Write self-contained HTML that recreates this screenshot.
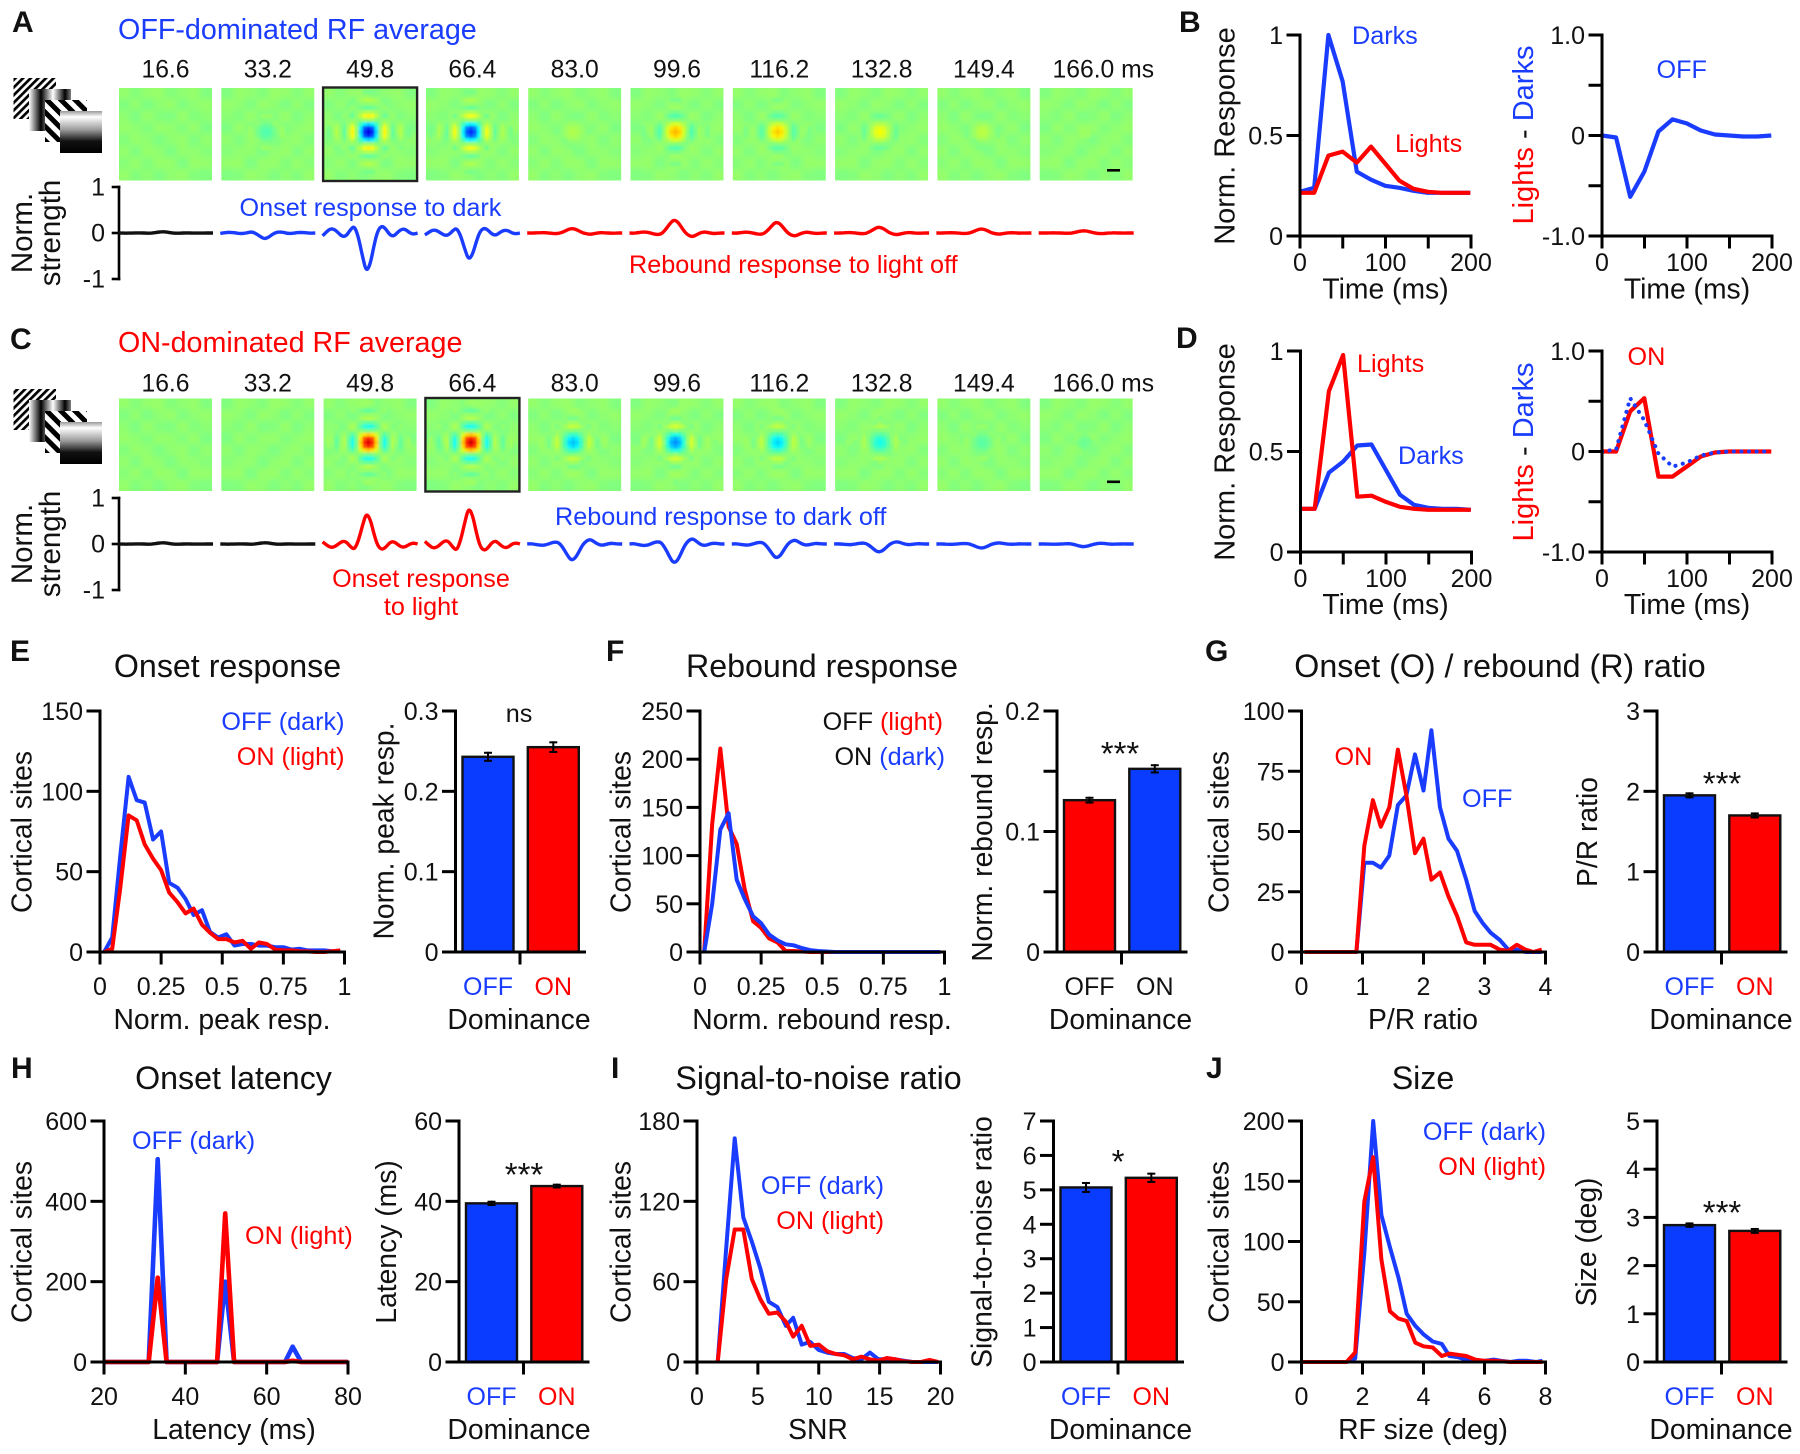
<!DOCTYPE html>
<html lang="en">
<head>
<meta charset="utf-8">
<title>OFF and ON receptive field dynamics</title>
<style>
html,body{margin:0;padding:0;background:#fff;}
svg{display:block;font-family:"Liberation Sans",Arial,sans-serif;}
text{fill:#111;}
.pl{font-size:30px;font-weight:bold;}
.ti{font-size:32.2px;}
.la{font-size:28.3px;}
.st{font-size:29.5px;}
.an{font-size:25.2px;}
.bl{fill:#1a3cff;}
.rd{fill:#ff0000;}
</style>
</head>
<body>
<svg id="figure" xmlns="http://www.w3.org/2000/svg" width="1800" height="1454" viewBox="0 0 1800 1454">
<defs>
<pattern id="hatchA" width="5.4" height="5.4" patternUnits="userSpaceOnUse" patternTransform="rotate(45)"><rect width="5.4" height="5.4" fill="#fff"/><rect width="2.7" height="5.4" fill="#000"/></pattern>
<pattern id="hatchB" width="10" height="10" patternUnits="userSpaceOnUse" patternTransform="rotate(-45)"><rect width="10" height="10" fill="#fff"/><rect width="5" height="10" fill="#000"/></pattern>
<linearGradient id="barsV" gradientUnits="userSpaceOnUse" x1="29" y1="0" x2="53" y2="0" spreadMethod="repeat"><stop offset="0" stop-color="#fff"/><stop offset=".5" stop-color="#000"/><stop offset="1" stop-color="#fff"/></linearGradient>
<linearGradient id="ramp" x1="0" y1="0" x2="0" y2="1"><stop offset="0" stop-color="#999"/><stop offset=".14" stop-color="#fff"/><stop offset=".45" stop-color="#999"/><stop offset=".72" stop-color="#111"/><stop offset="1" stop-color="#000"/></linearGradient>
<filter id="soft" x="-5%" y="-5%" width="110%" height="110%"><feGaussianBlur stdDeviation="1.1"/></filter>
<filter id="softer" x="-5%" y="-5%" width="110%" height="110%"><feGaussianBlur stdDeviation="3"/></filter>
</defs>

<!-- panel letters -->
<text class="pl" x="12" y="32">A</text>
<text class="pl" x="1179" y="32">B</text>
<text class="pl" x="10" y="349">C</text>
<text class="pl" x="1176" y="348">D</text>
<text class="pl" x="10" y="661">E</text>
<text class="pl" x="606" y="661">F</text>
<text class="pl" x="1205" y="661">G</text>
<text class="pl" x="11" y="1078">H</text>
<text class="pl" x="611" y="1078">I</text>
<text class="pl" x="1206" y="1078">J</text>

<!-- A / C headings and annotations -->
<text class="bl" x="118" y="39" font-size="28.7">OFF-dominated RF average</text>
<text class="rd" x="118" y="352" font-size="28.7">ON-dominated RF average</text>
<text class="bl an" x="239.5" y="216">Onset response to dark</text>
<text class="rd an" x="629" y="273">Rebound response to light off</text>
<text class="rd an" x="421" y="587" text-anchor="middle">Onset response</text>
<text class="rd an" x="421" y="615" text-anchor="middle">to light</text>
<text class="bl an" x="555" y="525">Rebound response to dark off</text>
<text class="st" transform="translate(32,233) rotate(-90)" text-anchor="middle">Norm.</text>
<text class="st" transform="translate(60,233) rotate(-90)" text-anchor="middle">strength</text>
<text class="st" transform="translate(32,544) rotate(-90)" text-anchor="middle">Norm.</text>
<text class="st" transform="translate(60,544) rotate(-90)" text-anchor="middle">strength</text>

<!-- B / D labels -->
<text class="la" transform="translate(1234.5,136) rotate(-90)" text-anchor="middle" style="font-size:29px">Norm. Response</text>
<text class="la" transform="translate(1533,135) rotate(-90)" text-anchor="middle" style="font-size:29px"><tspan class="rd">Lights</tspan> - <tspan class="bl">Darks</tspan></text>
<text class="la" x="1385.5" y="298.5" text-anchor="middle">Time (ms)</text>
<text class="la" x="1687" y="298.5" text-anchor="middle">Time (ms)</text>
<text class="bl an" x="1352" y="44">Darks</text>
<text class="rd an" x="1395" y="152">Lights</text>
<text class="bl an" x="1656.5" y="78">OFF</text>
<text class="la" transform="translate(1234.5,452) rotate(-90)" text-anchor="middle" style="font-size:29px">Norm. Response</text>
<text class="la" transform="translate(1533,452) rotate(-90)" text-anchor="middle" style="font-size:29px"><tspan class="rd">Lights</tspan> - <tspan class="bl">Darks</tspan></text>
<text class="la" x="1385.5" y="614" text-anchor="middle">Time (ms)</text>
<text class="la" x="1687" y="614" text-anchor="middle">Time (ms)</text>
<text class="rd an" x="1357" y="372">Lights</text>
<text class="bl an" x="1398" y="464">Darks</text>
<text class="rd an" x="1627.5" y="365">ON</text>

<!-- E -->
<text class="ti" x="227.5" y="677" text-anchor="middle">Onset response</text>
<text class="la" transform="translate(31.5,832) rotate(-90)" text-anchor="middle">Cortical sites</text>
<text class="la" x="222" y="1029" text-anchor="middle">Norm. peak resp.</text>
<text class="bl an" x="344.5" y="730" text-anchor="end">OFF (dark)</text>
<text class="rd an" x="344.5" y="765" text-anchor="end">ON (light)</text>
<text class="la" transform="translate(393.5,831) rotate(-90)" text-anchor="middle">Norm. peak resp.</text>
<text class="la" x="519" y="1029" text-anchor="middle">Dominance</text>
<text class="an" x="519" y="722" text-anchor="middle">ns</text>

<!-- F -->
<text class="ti" x="822" y="677" text-anchor="middle">Rebound response</text>
<text class="la" transform="translate(630.5,832) rotate(-90)" text-anchor="middle">Cortical sites</text>
<text class="la" x="822" y="1029" text-anchor="middle">Norm. rebound resp.</text>
<text class="an" x="943" y="730" text-anchor="end">OFF <tspan class="rd">(light)</tspan></text>
<text class="an" x="945" y="765" text-anchor="end">ON <tspan class="bl">(dark)</tspan></text>
<text class="la" transform="translate(992,832) rotate(-90)" text-anchor="middle">Norm. rebound resp.</text>
<text class="la" x="1120.5" y="1029" text-anchor="middle">Dominance</text>
<text x="1120" y="765" text-anchor="middle" font-size="33">***</text>

<!-- G -->
<text class="ti" x="1500" y="677" text-anchor="middle">Onset (O) / rebound (R) ratio</text>
<text class="la" transform="translate(1228.5,832) rotate(-90)" text-anchor="middle">Cortical sites</text>
<text class="la" x="1423" y="1029" text-anchor="middle">P/R ratio</text>
<text class="rd an" x="1334.5" y="765">ON</text>
<text class="bl an" x="1462" y="807">OFF</text>
<text class="la" transform="translate(1597,832) rotate(-90)" text-anchor="middle">P/R ratio</text>
<text class="la" x="1721" y="1029" text-anchor="middle">Dominance</text>
<text x="1722" y="795" text-anchor="middle" font-size="33">***</text>

<!-- H -->
<text class="ti" x="233.5" y="1089" text-anchor="middle">Onset latency</text>
<text class="la" transform="translate(31.5,1242) rotate(-90)" text-anchor="middle">Cortical sites</text>
<text class="la" x="234" y="1439" text-anchor="middle">Latency (ms)</text>
<text class="bl an" x="132" y="1149">OFF (dark)</text>
<text class="rd an" x="245" y="1244">ON (light)</text>
<text class="la" transform="translate(396,1242) rotate(-90)" text-anchor="middle">Latency (ms)</text>
<text class="la" x="519" y="1439" text-anchor="middle">Dominance</text>
<text x="524" y="1186" text-anchor="middle" font-size="33">***</text>

<!-- I -->
<text class="ti" x="818.5" y="1089" text-anchor="middle">Signal-to-noise ratio</text>
<text class="la" transform="translate(630.5,1242) rotate(-90)" text-anchor="middle">Cortical sites</text>
<text class="la" x="818" y="1439" text-anchor="middle">SNR</text>
<text class="bl an" x="884" y="1194" text-anchor="end">OFF (dark)</text>
<text class="rd an" x="884" y="1229" text-anchor="end">ON (light)</text>
<text class="la" transform="translate(991.5,1242) rotate(-90)" text-anchor="middle">Signal-to-noise ratio</text>
<text class="la" x="1120.5" y="1439" text-anchor="middle">Dominance</text>
<text x="1118" y="1173" text-anchor="middle" font-size="33">*</text>

<!-- J -->
<text class="ti" x="1423" y="1089" text-anchor="middle">Size</text>
<text class="la" transform="translate(1228.5,1242) rotate(-90)" text-anchor="middle">Cortical sites</text>
<text class="la" x="1423" y="1439" text-anchor="middle">RF size (deg)</text>
<text class="bl an" x="1546" y="1140" text-anchor="end">OFF (dark)</text>
<text class="rd an" x="1546" y="1175" text-anchor="end">ON (light)</text>
<text class="la" transform="translate(1596,1242) rotate(-90)" text-anchor="middle">Size (deg)</text>
<text class="la" x="1721" y="1439" text-anchor="middle">Dominance</text>
<text x="1722" y="1224" text-anchor="middle" font-size="33">***</text>
</svg>

<script>
/* ---------- data: RF frames ---------- */
const frameLabels = ['16.6','33.2','49.8','66.4','83.0','99.6','116.2','132.8','149.4','166.0 ms'];
const offHeatAmps = [0,-0.06,-0.42,-0.36,0.04,0.19,0.17,0.11,0.05,0.02];
const onHeatAmps = [0,0,0.4,0.42,-0.2,-0.25,-0.18,-0.12,-0.05,-0.03];
const kernelProfile = [1,0.85,0.42,-0.05,-0.3,-0.1,0.1,0.02,-0.1,-0.02,0.05,0];
const backgroundTexture = [
  [ 0.012,-0.006, 0.010, 0.014,-0.008, 0.006, 0.012,-0.010],
  [-0.010, 0.008,-0.012, 0.004, 0.012,-0.010, 0.004, 0.010],
  [ 0.006,-0.012, 0.012,-0.006,-0.010, 0.012,-0.008, 0.002],
  [ 0.012, 0.004,-0.008, 0.010, 0.008,-0.006, 0.012,-0.012],
  [-0.008, 0.010, 0.006,-0.012, 0.004, 0.010,-0.010, 0.008],
  [ 0.010,-0.010, 0.012, 0.006,-0.012, 0.008, 0.006,-0.004],
  [-0.004, 0.012,-0.008, 0.012, 0.010,-0.012, 0.012, 0.010],
  [ 0.012,-0.008, 0.004,-0.010, 0.006, 0.012,-0.006,-0.010]
];
const offTraceAmps = [0.03,-0.13,-0.87,-0.6,0.1,0.29,0.24,0.13,0.09,0.05];
const onTraceAmps = [0.03,0.03,0.69,0.81,-0.36,-0.42,-0.31,-0.18,-0.09,-0.06];
const onsetShape = [0.07,-0.03,-0.11,-0.09,0,0.09,0.07,-0.08,-0.18,0.08,0.55,0.97,0.8,0.3,-0.08,-0.18,-0.1,0.05,0.08,-0.02,-0.1,-0.09,0,0.03,0];
const reboundShape = [0,-0.02,0.02,0.06,0.08,0.03,-0.06,-0.12,-0.08,0.2,0.62,0.97,0.9,0.5,0.05,-0.2,-0.28,-0.12,0.03,0.08,0.02,-0.04,-0.03,0,0];
const strengthTicks = [1,0,-1];
const strengthLabels = ['1','0','-1'];

/* ---------- data: time courses (B, D) ---------- */
const timeMs = [0,16.6,33.2,49.8,66.4,83,99.6,116.2,132.8,149.4,166,182.6,199.2];
const bDarks = [0.22,0.24,1,0.77,0.32,0.28,0.25,0.24,0.225,0.215,0.215,0.215,0.215];
const bLights = [0.215,0.215,0.4,0.42,0.365,0.445,0.36,0.275,0.235,0.22,0.215,0.215,0.215];
const bDiffOff = [0,-0.02,-0.61,-0.36,0.04,0.16,0.12,0.05,0.01,0,-0.01,-0.01,0];
const dLights = [0.215,0.215,0.8,0.98,0.275,0.28,0.25,0.225,0.215,0.21,0.21,0.21,0.21];
const dDarks = [0.215,0.215,0.395,0.45,0.53,0.535,0.41,0.285,0.235,0.22,0.215,0.215,0.21];
const dDiffOn = [0,0,0.4,0.53,-0.25,-0.25,-0.15,-0.05,-0.01,0,0,0,0];
const dDiffOff = [0,0.02,0.53,0.31,-0.02,-0.15,-0.11,-0.04,-0.01,0,0,0,0];
const timeTicks = [0,50,100,150,200];
const timeTickLabels = ['0','','100','','200'];
const respTicks = [0,0.5,1];
const respTickLabels = ['0','0.5','1'];
const diffTicks = [-1,-0.5,0,0.5,1];
const diffTickLabels = ['-1.0','','0','','1.0'];

/* ---------- data: histograms ---------- */
const respBins = [0.017,0.05,0.083,0.117,0.15,0.183,0.217,0.25,0.283,0.317,0.35,0.383,0.417,0.45,0.483,0.517,0.55,0.583,0.617,0.65,0.683,0.717,0.75,0.783,0.817,0.85,0.883,0.917,0.95,0.983];
const eOff = [0,9,60,109,94.5,93,70,75,43,40,33,23,26,12.5,9,11,4,5,5,4,4,3,3,1.5,2,1,1,1,0.5,0.3];
const eOn = [0,2,40,85,82,67,58,51,37,31,24,27,17,12,8,8,6,7,2,6,5,1.5,1,1,0.5,0.3,0,0,0.5,1];
const fOff = [0,133,211,130,112,65,32,25,14,10,1,1,0.5,0,0,0,0,0,0,0,0,0,0,0,0,0,0,0,0,0];
const fOn = [0,50,127,144,75,55,37,30,18,12,8,7,4,2,1,0.5,0,0,0,0,0,0,0,0,0,0,0,0,0,0];
const gBins = [0.05,0.9,1.03,1.17,1.3,1.44,1.58,1.72,1.86,2,2.13,2.27,2.41,2.55,2.7,2.84,2.97,3.1,3.25,3.39,3.53,3.67,3.8,3.94];
const gOff = [0,0,37,37,35,40,61,65,82,67,92,60,47,42,30,17,12,8,5,1,1,0,0,0];
const gOn = [0,0,44,63,52,60,84,65,41,47,30,33,23,15,4,3,3,3,1,0.5,3,1,0,1];
const hBins = [20,31,33.2,35.4,47.8,49.8,52,64.5,66.4,68.5,80];
const hOff = [0,0,505,0,0,200,0,0,38,0,0];
const hOn = [0,0,210,0,0,370,0,0,3,0,0];
const iBins = [1.7,2.4,3.1,3.8,4.5,5.2,5.9,6.6,7.3,7.9,8.6,9.3,10,10.7,11.4,12.1,12.8,13.5,14.2,14.9,15.6,16.3,17,17.7,18.4,19.1,19.8];
const iOff = [0,85,167,108,90,70,45,41,27,33,13,15,9,7,6,6,3,2,7,2,2,2,1,0,0,0,0];
const iOn = [0,62,99,99,62,47,36,37,30,19,27,12,13,8,6,5,2,4,2,1,3,2,0.5,0,0,1.5,0];
const jBins = [0.05,1.48,1.76,2.06,2.35,2.62,2.9,3.18,3.45,3.73,4,4.3,4.6,4.85,5.13,5.4,5.7,6,6.3,6.55,6.85,7.1,7.4,7.7,7.9];
const jOff = [0,0,3,90,200,122,95,70,40,30,23,17,15,5,4,2,0.5,1,2,1,0,1,1,0,1];
const jOn = [0,0,8,133,170,85,42,36,34,16,13,12,5,7,6,5,2,1,1,0.5,0,0,0,0,0];

const normXTicks = [0,0.25,0.5,0.75,1];
const normXLabels = ['0','0.25','0.5','0.75','1'];
const ratioXTicks = [0,1,2,3,4];
const latencyXTicks = [20,40,60,80];
const snrXTicks = [0,5,10,15,20];
const sizeXTicks = [0,2,4,6,8];
const eYTicks = [0,50,100,150];
const fYTicks = [0,50,100,150,200,250];
const gYTicks = [0,25,50,75,100];
const hYTicks = [0,200,400,600];
const iYTicks = [0,60,120,180];
const jYTicks = [0,50,100,150,200];

/* ---------- data: bars ---------- */
const eBarValues = [0.243,0.255], eBarErrors = [0.005,0.006], eBarTicks = [0,0.1,0.2,0.3], eBarTickLabels = ['0','0.1','0.2','0.3'];
const fBarValues = [0.126,0.152], fBarErrors = [0.002,0.003], fBarTicks = [0,0.05,0.1,0.15,0.2], fBarTickLabels = ['0','','0.1','','0.2'];
const gBarValues = [1.95,1.7], gBarErrors = [0.025,0.025], gBarTicks = [0,1,2,3], gBarTickLabels = ['0','1','2','3'];
const hBarValues = [39.5,43.8], hBarErrors = [0.4,0.35], hBarTicks = [0,20,40,60], hBarTickLabels = ['0','20','40','60'];
const iBarValues = [5.07,5.35], iBarErrors = [0.13,0.12], iBarTicks = [0,1,2,3,4,5,6,7], iBarTickLabels = ['0','1','2','3','4','5','6','7'];
const jBarValues = [2.84,2.72], jBarErrors = [0.035,0.04], jBarTicks = [0,1,2,3,4,5], jBarTickLabels = ['0','1','2','3','4','5'];
const dominanceLabels = ['OFF','ON'];

/* ---------- drawing ---------- */
const NS = 'http://www.w3.org/2000/svg';
const BLUE = '#1a3cff', RED = '#ff0000', INK = '#111111', BAR_BLUE = '#0a3cff';
const root = document.getElementById('figure');

function scale(d0, d1, r0, r1) {
  return function (v) { return r0 + (v - d0) * (r1 - r0) / (d1 - d0); };
}
function group(parent, name) {
  const el = document.createElementNS(NS, 'g');
  
  
  parent.appendChild(el);
  return el;
}
function addLine(parent, name, x1, y1, x2, y2, width) {
  const el = document.createElementNS(NS, 'line');
  
  
  el.setAttribute('x1', x1); el.setAttribute('y1', y1);
  el.setAttribute('x2', x2); el.setAttribute('y2', y2);
  el.setAttribute('stroke', '#000');
  el.setAttribute('stroke-width', width);
  el.setAttribute('stroke-linecap', 'square');
  parent.appendChild(el);
}
function addText(parent, name, x, y, str, size, anchor, fill) {
  const el = document.createElementNS(NS, 'text');
  
  
  el.setAttribute('x', x); el.setAttribute('y', y);
  el.setAttribute('font-size', size);
  el.setAttribute('text-anchor', anchor);
  if (fill) el.style.fill = fill;
  el.textContent = str;
  parent.appendChild(el);
}
function addRect(parent, name, x, y, w, h, fill, stroke, sw) {
  const el = document.createElementNS(NS, 'rect');
  
  
  el.setAttribute('x', x); el.setAttribute('y', y);
  el.setAttribute('width', w); el.setAttribute('height', h);
  el.setAttribute('fill', fill);
  if (stroke) { el.setAttribute('stroke', stroke); el.setAttribute('stroke-width', sw); }
  parent.appendChild(el);
}
function addCurve(parent, name, xs, ys, xFn, yFn, color, width, dash) {
  const el = document.createElementNS(NS, 'polyline');
  
  
  el.setAttribute('points', xs.map(function (x, i) { return xFn(x).toFixed(1) + ',' + yFn(ys[i]).toFixed(1); }).join(' '));
  el.setAttribute('fill', 'none');
  el.setAttribute('stroke', color);
  el.setAttribute('stroke-width', width);
  el.setAttribute('stroke-linejoin', 'round');
  if (dash) { el.setAttribute('stroke-dasharray', dash); el.setAttribute('stroke-linecap', 'round'); }
  parent.appendChild(el);
}
function drawAxes(g, c) {
  addLine(g, 'y-axis', c.left, c.top, c.left, c.bottom, 3);
  addLine(g, 'x-axis', c.left - 12, c.bottom, c.right, c.bottom, 3);
  c.yTicks.forEach(function (t, i) {
    addLine(g, 'y-tick', c.left - 12, c.y(t), c.left, c.y(t), 3);
    if (c.yLabels[i]) addText(g, 'y-tick-label', c.left - 17, c.y(t) + 9, c.yLabels[i], 25, 'end');
  });
  c.xTicks.forEach(function (t, i) {
    addLine(g, 'x-tick', c.x(t), c.bottom, c.x(t), c.bottom + 11, 3);
    if (c.xLabels[i]) addText(g, 'x-tick-label', c.x(t), c.labelY, c.xLabels[i], 25, 'middle');
  });
}
function drawHist(c) {
  const g = group(root, c.name);
  c.x = scale(c.xMin, c.xMax, c.left, c.right);
  c.y = scale(0, c.yMax, c.bottom, c.top);
  addCurve(g, 'off-curve', c.xs, c.off, c.x, c.y, BLUE, c.lineWidth || 4);
  addCurve(g, 'on-curve', c.xs, c.on, c.x, c.y, RED, c.lineWidth || 4);
  if (c.redFirst) { g.appendChild(g.lastChild.previousSibling); }
  drawAxes(g, c);
}
function drawBars(c) {
  const g = group(root, c.name);
  const y = scale(0, c.yMax, c.bottom, c.top);
  c.values.forEach(function (v, i) {
    const bx = c.left + 7 + i * 65.3;
    addRect(g, 'bar-' + dominanceLabels[i].toLowerCase(), bx, y(v), 51, y(0) - y(v), c.colors[i], '#111', 2.4);
    const cx = bx + 25.5;
    addLine(g, 'error-bar', cx, y(v + c.errors[i]), cx, y(v - c.errors[i]), 2);
    addLine(g, 'error-cap', cx - 3, y(v + c.errors[i]), cx + 3, y(v + c.errors[i]), 2);
    addLine(g, 'error-cap', cx - 3, y(v - c.errors[i]), cx + 3, y(v - c.errors[i]), 2);
    addText(g, 'category-label', cx, c.labelY, dominanceLabels[i], 25, 'middle', c.labelColors[i]);
  });
  addLine(g, 'y-axis', c.left, c.top, c.left, c.bottom, 3);
  addLine(g, 'x-axis', c.left - 12, c.bottom, c.left + 129, c.bottom, 3);
  addLine(g, 'x-tick', c.left + 64.5, c.bottom, c.left + 64.5, c.bottom + 11, 3);
  c.ticks.forEach(function (t, i) {
    addLine(g, 'y-tick', c.left - 12, y(t), c.left, y(t), 3);
    if (c.tickLabels[i]) addText(g, 'y-tick-label', c.left - 17, y(t) + 9, c.tickLabels[i], 25, 'end');
  });
}
function drawTime(c) {
  const g = group(root, c.name);
  c.x = scale(0, 200, c.left, c.right);
  c.y = scale(c.yMin, c.yMax, c.bottom, c.top);
  c.series.forEach(function (s) {
    addCurve(g, s.name, timeMs, s.values, c.x, c.y, s.color, s.width || 4.2, s.dash);
  });
  drawAxes(g, c);
}
function jet(v) {
  function ch(k) { return Math.round(255 * Math.max(0, Math.min(1, 1.5 - Math.abs(4 * v - k)))); }
  return 'rgb(' + ch(3) + ',' + ch(2) + ',' + ch(1) + ')';
}
function frameX(i) { return 119 + i * 102.3; }
function drawFrames(rowName, y0, amps, selected) {
  const g = group(root, rowName);
  amps.forEach(function (amp, f) {
    const x0 = frameX(f);
    const holder = document.createElementNS(NS, 'svg');
    
    
    holder.setAttribute('x', x0); holder.setAttribute('y', y0);
    holder.setAttribute('width', 93); holder.setAttribute('height', 92.5);
    g.appendChild(holder);
    addRect(holder, 'heatmap-background', 0, 0, 93, 92.5, jet(0.51));
    const patches = group(holder, 'heatmap-background-texture');
    patches.setAttribute('filter', 'url(#softer)');
    backgroundTexture.forEach(function (row, r) {
      row.forEach(function (d, q) {
        const col = f % 2 ? row.length - 1 - q : q;
        addRect(patches, 'heatmap-background-patch', col * 11.7 - 1, r * 11.7 - 1, 13, 13, jet(0.51 + d));
      });
    });
    const cells = group(holder, 'heatmap-cells');
    cells.setAttribute('filter', 'url(#soft)');
    const n = kernelProfile.length;
    for (let r = -n + 1; r < n; r++) {
      for (let q = -n + 1; q < n; q++) {
        const w = amp * kernelProfile[Math.abs(r)] * kernelProfile[Math.abs(q)];
        if (Math.abs(w) < 0.012) continue;
        addRect(cells, 'heatmap-cell', 45 + q * 4 - 2, 44 + r * 4 - 2, 4, 4, jet(0.51 + w));
      }
    }
    if (f === selected) addRect(g, 'selected-frame-outline', x0 - 0.5, y0 - 0.5, 94, 93.5, 'none', '#222', 2.4);
  });
}
function drawFrameLabels(rowName, baseline) {
  const g = group(root, rowName);
  frameLabels.forEach(function (t, f) {
    if (f === frameLabels.length - 1) addText(g, 'frame-time-label', 1052.5, baseline, t, 24.7, 'start');
    else addText(g, 'frame-time-label', frameX(f) + 46.5, baseline, t, 24.7, 'middle');
  });
}
function drawTraces(rowName, zero, amps, shapes, colors) {
  const g = group(root, rowName);
  const yScale = scale(0, 1, zero, zero - 46);
  addLine(g, 'strength-axis', 119, yScale(1), 119, yScale(-1), 2.6);
  strengthTicks.forEach(function (t, i) {
    addLine(g, 'strength-tick', 113, yScale(t), 119, yScale(t), 2.6);
    addText(g, 'strength-tick-label', 105, yScale(t) + 8.5, strengthLabels[i], 25, 'end');
  });
  amps.forEach(function (amp, f) {
    const shape = shapes[f];
    const xScale = scale(0, shape.length - 1, frameX(f) - 1, frameX(f) + 94);
    let d = '';
    shape.forEach(function (s, i) {
      const px = xScale(i), py = yScale(amp * s);
      if (i === 0) d = 'M' + px.toFixed(1) + ' ' + py.toFixed(1);
      else {
        const mx = (xScale(i - 1) + px) / 2, my = (yScale(amp * shape[i - 1]) + py) / 2;
        d += ' Q' + xScale(i - 1).toFixed(1) + ' ' + yScale(amp * shape[i - 1]).toFixed(1) + ' ' + mx.toFixed(1) + ' ' + my.toFixed(1);
      }
    });
    d += ' L' + xScale(shape.length - 1).toFixed(1) + ' ' + yScale(amp * shape[shape.length - 1]).toFixed(1);
    const el = document.createElementNS(NS, 'path');
    
    
    el.setAttribute('d', d);
    el.setAttribute('fill', 'none');
    el.setAttribute('stroke', colors[f]);
    el.setAttribute('stroke-width', 3.4);
    el.setAttribute('stroke-linejoin', 'round');
    g.appendChild(el);
  });
}
function drawStimulus(name, dy) {
  const g = group(root, name);
  addRect(g, 'stimulus-oblique-grating', 13.5, 78 + dy, 42.5, 41, 'url(#hatchA)');
  addRect(g, 'stimulus-vertical-grating', 29, 89 + dy, 42, 42, 'url(#barsV)');
  addRect(g, 'stimulus-oblique-grating-2', 45, 100 + dy, 42, 42, 'url(#hatchB)');
  addRect(g, 'stimulus-horizontal-grating', 60, 111 + dy, 42, 42, 'url(#ramp)');
}

drawStimulus('stimulus-icon-a', 0);
drawStimulus('stimulus-icon-c', 311);
drawFrameLabels('frame-labels-a', 77.5);
drawFrameLabels('frame-labels-c', 391.5);
drawFrames('heatmaps-off', 88, offHeatAmps, 2);
drawFrames('heatmaps-on', 398.5, onHeatAmps, 3);
addRect(root, 'scale-bar-a', 1107, 169, 13, 2.6, '#000');
addRect(root, 'scale-bar-c', 1107, 480.5, 13, 2.6, '#000');
drawTraces('strength-traces-off', 233, offTraceAmps,
  [onsetShape, onsetShape, onsetShape, onsetShape, reboundShape, reboundShape, reboundShape, reboundShape, reboundShape, reboundShape],
  [INK, BLUE, BLUE, BLUE, RED, RED, RED, RED, RED, RED]);
drawTraces('strength-traces-on', 544, onTraceAmps,
  [onsetShape, onsetShape, onsetShape, onsetShape, reboundShape, reboundShape, reboundShape, reboundShape, reboundShape, reboundShape],
  [INK, INK, RED, RED, BLUE, BLUE, BLUE, BLUE, BLUE, BLUE]);

drawTime({ name: 'b-response-chart', left: 1300, right: 1471, top: 35, bottom: 236, yMin: 0, yMax: 1, labelY: 271,
  yTicks: respTicks, yLabels: respTickLabels, xTicks: timeTicks, xLabels: timeTickLabels,
  series: [{ name: 'darks-curve', values: bDarks, color: BLUE }, { name: 'lights-curve', values: bLights, color: RED }] });
drawTime({ name: 'b-difference-chart', left: 1602, right: 1772, top: 35, bottom: 236, yMin: -1, yMax: 1, labelY: 271,
  yTicks: diffTicks, yLabels: diffTickLabels, xTicks: timeTicks, xLabels: timeTickLabels,
  series: [{ name: 'off-difference-curve', values: bDiffOff, color: BLUE }] });
drawTime({ name: 'd-response-chart', left: 1300.5, right: 1471.5, top: 351, bottom: 552, yMin: 0, yMax: 1, labelY: 587,
  yTicks: respTicks, yLabels: respTickLabels, xTicks: timeTicks, xLabels: timeTickLabels,
  series: [{ name: 'darks-curve', values: dDarks, color: BLUE }, { name: 'lights-curve', values: dLights, color: RED }] });
drawTime({ name: 'd-difference-chart', left: 1602, right: 1772, top: 351, bottom: 552, yMin: -1, yMax: 1, labelY: 587,
  yTicks: diffTicks, yLabels: diffTickLabels, xTicks: timeTicks, xLabels: timeTickLabels,
  series: [{ name: 'on-difference-curve', values: dDiffOn, color: RED },
           { name: 'off-difference-dotted-curve', values: dDiffOff, color: BLUE, dash: '0.1 7.5', width: 4 }] });

drawHist({ name: 'e-histogram', left: 100, right: 344.5, top: 711, bottom: 952, labelY: 995, xMin: 0, xMax: 1, yMax: 150,
  xs: respBins, off: eOff, on: eOn, xTicks: normXTicks, xLabels: normXLabels, yTicks: eYTicks, yLabels: eYTicks.map(String) });
drawHist({ name: 'f-histogram', left: 700, right: 944.5, top: 711, bottom: 952, labelY: 995, xMin: 0, xMax: 1, yMax: 250,
  xs: respBins, off: fOn, on: fOff, redFirst: true, xTicks: normXTicks, xLabels: normXLabels, yTicks: fYTicks, yLabels: fYTicks.map(String) });
drawHist({ name: 'g-histogram', left: 1301.5, right: 1545.5, top: 711, bottom: 952, labelY: 995, xMin: 0, xMax: 4, yMax: 100,
  xs: gBins, off: gOff, on: gOn, xTicks: ratioXTicks, xLabels: ratioXTicks.map(String), yTicks: gYTicks, yLabels: gYTicks.map(String) });
drawHist({ name: 'h-histogram', left: 104, right: 348, top: 1121, bottom: 1362, labelY: 1405, xMin: 20, xMax: 80, yMax: 600, lineWidth: 4.6,
  xs: hBins, off: hOff, on: hOn, xTicks: latencyXTicks, xLabels: latencyXTicks.map(String), yTicks: hYTicks, yLabels: hYTicks.map(String) });
drawHist({ name: 'i-histogram', left: 697, right: 940.5, top: 1121, bottom: 1362, labelY: 1405, xMin: 0, xMax: 20, yMax: 180,
  xs: iBins, off: iOff, on: iOn, xTicks: snrXTicks, xLabels: snrXTicks.map(String), yTicks: iYTicks, yLabels: iYTicks.map(String) });
drawHist({ name: 'j-histogram', left: 1301.5, right: 1545.5, top: 1121, bottom: 1362, labelY: 1405, xMin: 0, xMax: 8, yMax: 200,
  xs: jBins, off: jOff, on: jOn, xTicks: sizeXTicks, xLabels: sizeXTicks.map(String), yTicks: jYTicks, yLabels: jYTicks.map(String) });

drawBars({ name: 'e-bar-chart', left: 455.5, top: 711, bottom: 952, labelY: 995, yMax: 0.3, values: eBarValues, errors: eBarErrors,
  ticks: eBarTicks, tickLabels: eBarTickLabels, colors: [BAR_BLUE, RED], labelColors: [BLUE, RED] });
drawBars({ name: 'f-bar-chart', left: 1057, top: 711, bottom: 952, labelY: 995, yMax: 0.2, values: fBarValues, errors: fBarErrors,
  ticks: fBarTicks, tickLabels: fBarTickLabels, colors: [RED, BAR_BLUE], labelColors: [INK, INK] });
drawBars({ name: 'g-bar-chart', left: 1657, top: 711, bottom: 952, labelY: 995, yMax: 3, values: gBarValues, errors: gBarErrors,
  ticks: gBarTicks, tickLabels: gBarTickLabels, colors: [BAR_BLUE, RED], labelColors: [BLUE, RED] });
drawBars({ name: 'h-bar-chart', left: 459, top: 1121, bottom: 1362, labelY: 1405, yMax: 60, values: hBarValues, errors: hBarErrors,
  ticks: hBarTicks, tickLabels: hBarTickLabels, colors: [BAR_BLUE, RED], labelColors: [BLUE, RED] });
drawBars({ name: 'i-bar-chart', left: 1053.5, top: 1121, bottom: 1362, labelY: 1405, yMax: 7, values: iBarValues, errors: iBarErrors,
  ticks: iBarTicks, tickLabels: iBarTickLabels, colors: [BAR_BLUE, RED], labelColors: [BLUE, RED] });
drawBars({ name: 'j-bar-chart', left: 1657, top: 1121, bottom: 1362, labelY: 1405, yMax: 5, values: jBarValues, errors: jBarErrors,
  ticks: jBarTicks, tickLabels: jBarTickLabels, colors: [BAR_BLUE, RED], labelColors: [BLUE, RED] });
</script>
</body>
</html>
